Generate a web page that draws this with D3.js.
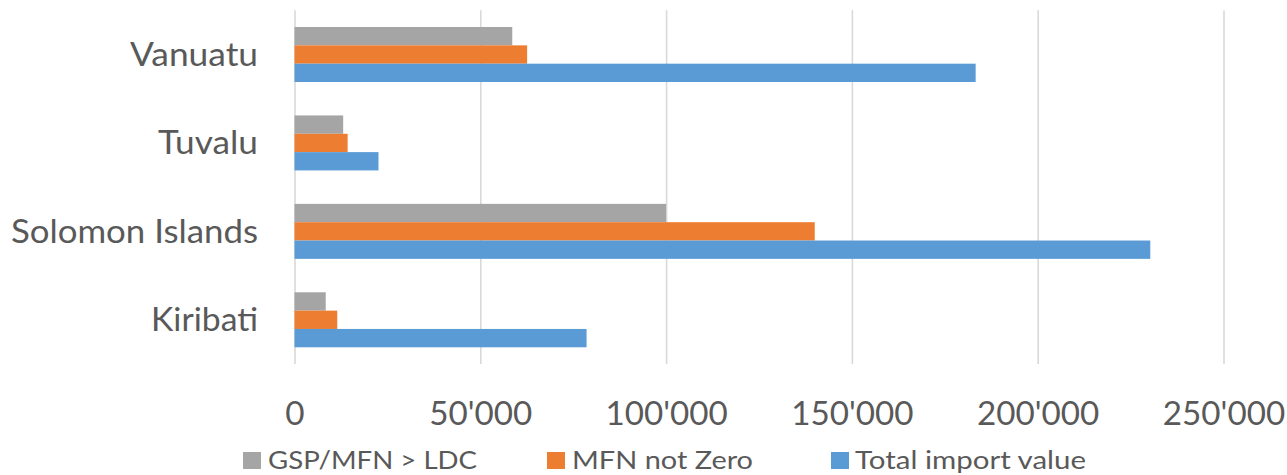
<!DOCTYPE html>
<html>
<head>
<meta charset="utf-8">
<script src="https://cdn.jsdelivr.net/npm/d3@7"></script>
<style>
  html, body { margin: 0; padding: 0; background: #fff; }
  svg { display: block; }
  text { font-family: Lato, "Open Sans", sans-serif; fill: #595959; }
</style>
</head>
<body>
<svg id="chart" width="1287" height="475"></svg>
<script>
// ---- data ----
const categories = ["Vanuatu", "Tuvalu", "Solomon Islands", "Kiribati"];
const seriesNames = ["GSP/MFN > LDC", "MFN not Zero", "Total import value"];
const gspMfnLdc = [58600, 13100, 100000, 8400];
const mfnNotZero = [62600, 14300, 140000, 11500];
const totalImport = [183300, 22600, 230300, 78600];
const tickValues = [0, 50000, 100000, 150000, 200000, 250000];

// ---- layout ----
const colors = ["#A5A5A5", "#ED7D31", "#5B9BD5"];
const seriesValues = [gspMfnLdc, mfnNotZero, totalImport];
const plot = { left: 294.5, right: 1223.5, top: 10.3, bottom: 364 };
const catLabelWidth = { "Vanuatu": 128, "Tuvalu": 100, "Solomon Islands": 247, "Kiribati": 107 };
const legendLayout = [
  { sq: 243, tx: 268, w: 209 },
  { sq: 547, tx: 572, w: 181 },
  { sq: 831, tx: 855, w: 231 }
];

const svg = d3.select("#chart");
const fmt = d3.formatLocale({ decimal: ".", thousands: "'", grouping: [3], currency: ["", ""] }).format(",");

const x = d3.scaleLinear().domain([0, 250000]).range([plot.left, plot.right]);
const y = d3.scaleBand().domain(categories).range([plot.top, plot.bottom])
  .paddingInner(0.378).paddingOuter(0.189);
const ySub = d3.scaleBand().domain(seriesNames).range([0, y.bandwidth()]);

// gridlines + tick labels
const xAxis = svg.append("g")
  .attr("transform", `translate(0,${plot.bottom})`)
  .call(d3.axisBottom(x).tickValues(tickValues).tickFormat(fmt)
    .tickSize(-(plot.bottom - plot.top)).tickSizeOuter(0));
xAxis.select(".domain").remove();
xAxis.selectAll(".tick line").attr("stroke", "#d9d9d9").attr("stroke-width", 1.6);
xAxis.selectAll(".tick text")
  .attr("y", 425 - plot.bottom).attr("dy", 0)
  .style("font-size", "33px").style("fill", "#595959")
  .attr("font-family", "Lato")
  .attr("textLength", d => {
    const s = fmt(d);
    const digits = s.replace(/'/g, "").length;
    const apos = s.length - digits;
    return digits * 19.3 + apos * 6.5;
  })
  .attr("lengthAdjust", "spacingAndGlyphs");

// bars
const groups = svg.append("g").selectAll("g")
  .data(categories)
  .join("g")
  .attr("transform", d => `translate(0,${y(d)})`);

groups.selectAll("rect")
  .data((c, i) => seriesNames.map((s, j) => ({ s, v: seriesValues[j][i], j })))
  .join("rect")
  .attr("x", x(0))
  .attr("y", d => ySub(d.s))
  .attr("width", d => x(d.v) - x(0))
  .attr("height", ySub.bandwidth())
  .attr("fill", d => colors[d.j]);

// category labels
const yAxis = svg.append("g")
  .attr("transform", `translate(${plot.left},0)`)
  .call(d3.axisLeft(y).tickSize(0).tickPadding(36.5));
yAxis.select(".domain").remove();
yAxis.selectAll(".tick text")
  .attr("dy", 0).attr("y", 11.5)
  .style("font-size", "32px").style("fill", "#595959")
  .attr("font-family", "Lato")
  .attr("textLength", d => catLabelWidth[d])
  .attr("lengthAdjust", "spacingAndGlyphs");

// legend
const legend = svg.append("g");
seriesNames.forEach((name, i) => {
  const L = legendLayout[i];
  legend.append("rect")
    .attr("x", L.sq).attr("y", 452).attr("width", 18).attr("height", 17)
    .attr("fill", colors[i]);
  legend.append("text")
    .attr("x", L.tx).attr("y", 469)
    .style("font-size", "25px")
    .attr("textLength", L.w)
    .attr("lengthAdjust", "spacingAndGlyphs")
    .text(name);
});
</script>
</body>
</html>
